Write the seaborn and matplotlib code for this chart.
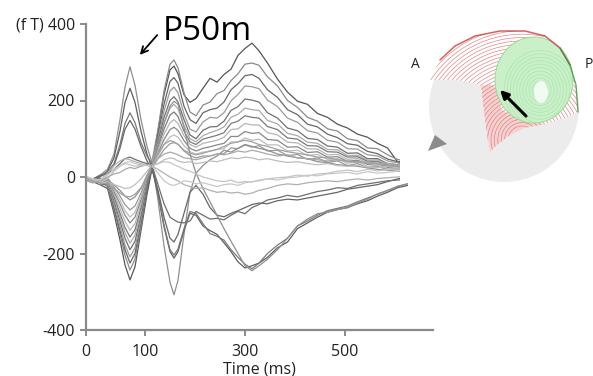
import numpy as np
import pandas as pd
import matplotlib
matplotlib.use("Agg")
import matplotlib.pyplot as plt
import seaborn as sns
from matplotlib.patches import Polygon, Circle, Ellipse

# sample times (ms)
TIME_MS = [-18, -5, 10, 25, 38, 50, 60, 70, 80, 92, 104, 114, 126, 138, 150, 158,
           166, 178, 190, 202, 216, 230, 244, 258, 272, 286, 300, 314, 328, 345,
           365, 385, 405, 425, 445, 465, 485, 505, 525, 545, 565, 585, 605, 625]

# channels negative at P50m, positive at ~160 ms and in the late response
n1 = [-5, -12, -20, -30, -95, -165, -230, -269, -235, -140, -45, 22, 120, 215, 280, 290,
      270, 215, 195, 205, 232, 258, 248, 268, 282, 318, 336, 350, 330, 298,
      256, 222, 198, 190, 166, 156, 138, 128, 112, 104, 88, 76, 40, 38]
n2 = [-8, -15, -12, -25, -85, -150, -205, -243, -215, -130, -30, 40, 125, 225, 295, 306,
      285, 220, 170, 160, 188, 196, 218, 226, 252, 270, 295, 298, 292, 262,
      238, 200, 182, 156, 146, 126, 120, 100, 95, 76, 74, 58, 46, 40]
n3 = [-3, -10, -18, -20, -80, -140, -190, -225, -200, -120, -35, 26, 110, 190, 250, 260,
      245, 185, 150, 140, 168, 176, 180, 196, 228, 244, 265, 268, 258, 228,
      208, 176, 163, 138, 131, 112, 103, 87, 83, 67, 61, 47, 40, 34]
n4 = [0, -8, -14, -18, -70, -128, -178, -209, -185, -110, -20, 42, 100, 172, 225, 235,
      220, 165, 125, 118, 144, 156, 154, 168, 199, 216, 238, 236, 231, 201,
      184, 154, 143, 121, 115, 96, 91, 74, 73, 58, 55, 42, 37, 28]
n5 = [-4, -10, -8, -15, -62, -115, -160, -190, -168, -100, -24, 24, 92, 155, 200, 210,
      196, 150, 110, 100, 122, 131, 132, 146, 174, 184, 204, 201, 196, 168,
      154, 128, 121, 101, 98, 81, 78, 62, 63, 48, 48, 35, 32, 26]
n6 = [-2, -6, -12, -12, -55, -105, -145, -173, -152, -90, -10, 38, 85, 140, 180, 190,
      178, 135, 100, 92, 108, 116, 122, 131, 156, 164, 180, 176, 174, 148,
      139, 114, 108, 91, 88, 72, 71, 56, 57, 44, 45, 33, 30, 24]
n7 = [-6, -12, -10, -10, -50, -95, -132, -157, -138, -80, -14, 28, 78, 125, 162, 170,
      158, 120, 92, 85, 99, 104, 109, 116, 140, 146, 160, 156, 154, 132,
      124, 102, 99, 82, 81, 66, 65, 52, 53, 41, 41, 30, 28, 22]
n8 = [-1, -8, -6, -8, -44, -82, -116, -139, -122, -70, -5, 36, 70, 112, 142, 150,
      140, 108, 85, 78, 88, 92, 96, 104, 124, 126, 140, 136, 136, 116,
      110, 91, 89, 74, 73, 58, 59, 46, 49, 37, 38, 27, 26, 20]
n9 = [-5, -10, -4, -6, -38, -70, -100, -120, -105, -60, -8, 25, 62, 98, 124, 130,
      122, 95, 75, 68, 75, 79, 84, 88, 106, 106, 119, 114, 116, 98,
      96, 78, 79, 64, 66, 52, 53, 41, 44, 33, 35, 25, 24, 18]
n10 = [-3, -7, -9, -4, -32, -60, -88, -105, -92, -52, 2, 32, 55, 85, 105, 110,
       104, 82, 66, 60, 65, 67, 72, 74, 92, 91, 102, 96, 99, 84,
       84, 68, 70, 56, 59, 46, 48, 36, 40, 28, 31, 22, 22, 16]
n11 = [-2, -5, -7, -2, -26, -50, -72, -86, -76, -42, 0, 22, 48, 72, 87, 90,
       86, 68, 56, 50, 55, 55, 60, 61, 76, 74, 84, 78, 82, 68,
       70, 56, 59, 46, 50, 38, 42, 30, 35, 24, 28, 19, 20, 14]

# channels positive at P50m, negative at ~160 ms
p1 = [-3, -8, 5, 20, 60, 150, 235, 288, 240, 150, 80, 38, -60, -180, -275, -308,
      -270, -150, -40, 10, 30, 45, 55, 70, 65, 75, 85, 80, 75, 70,
      60, 55, 50, 48, 40, 38, 32, 30, 28, 24, 20, 18, 15, 12]
p2 = [-6, -10, 0, 15, 50, 120, 195, 232, 195, 120, 60, 24, -45, -130, -195, -212,
      -195, -140, -95, -100, -128, -140, -150, -172, -195, -222, -238, -232, -225, -210,
      -185, -170, -135, -120, -105, -92, -85, -80, -70, -62, -50, -40, -28, -22]
p3 = [-2, -6, 2, 12, 35, 85, 140, 168, 142, 90, 55, 34, -40, -125, -190, -204,
      -188, -135, -90, -95, -122, -148, -155, -165, -190, -210, -228, -240, -225, -200,
      -178, -160, -128, -115, -100, -88, -82, -76, -65, -55, -45, -35, -25, -18]
p4 = [-4, -9, 3, 10, 30, 75, 125, 148, 125, 80, 42, 20, -35, -105, -160, -170,
      -150, -95, -40, -22, -45, -80, -100, -104, -95, -88, -80, -72, -68, -70,
      -62, -58, -60, -55, -50, -45, -40, -32, -28, -24, -20, -12, -5, 0]
p5 = [-2, -5, 4, 8, 20, 35, 48, 52, 46, 40, 35, 30, -20, -70, -105, -112,
      -118, -120, -115, -90, -100, -110, -108, -112, -100, -90, -96, -80, -72, -60,
      -55, -48, -52, -45, -38, -34, -28, -30, -22, -18, -14, -10, -8, -6]
# channel flipping from positive to the deep late trough
l1 = [-3, -6, -10, -8, -20, -35, -50, -60, -52, -30, 5, 30, 80, 140, 185, 198,
      190, 130, 60, 10, -30, -65, -100, -135, -168, -200, -232, -245, -232, -215,
      -190, -160, -128, -110, -96, -92, -85, -80, -68, -58, -44, -36, -24, -18]
# low amplitude channels
z1 = [-5, -12, -8, 10, 30, 42, 48, 45, 40, 35, 30, 28, 20, 10, 0, -5,
      -10, -20, -25, -30, -28, -35, -40, -38, -42, -40, -45, -42, -35, -30,
      -22, -18, -20, -15, -12, -10, -12, -8, -5, -8, -4, -2, 0, 2]
z2 = [0, -6, -14, -5, 15, 28, 35, 32, 28, 30, 32, 30, 35, 40, 38, 32,
      28, 20, 15, 8, 0, -5, -10, -12, -8, -15, -12, -13, -8, -5,
      -2, 0, 5, 2, 8, 10, 15, 18, 14, 20, 16, 20, 18, 22]
z3 = [-8, -15, -10, 0, 8, 12, 20, 25, 22, 28, 32, 30, 48, 60, 65, 62,
      58, 50, 48, 45, 50, 55, 60, 58, 62, 68, 65, 70, 66, 60,
      55, 58, 50, 48, 45, 42, 45, 40, 38, 40, 35, 36, 32, 30]
z4 = [-2, -8, -18, -12, -20, -25, -30, -28, -20, -5, 15, 30, 35, 45, 50, 48,
      42, 38, 40, 35, 38, 42, 40, 45, 50, 48, 52, 50, 45, 48,
      42, 38, 40, 35, 32, 35, 30, 28, 30, 26, 25, 28, 24, 22]
z5 = [2, -4, -8, 5, 20, 30, 38, 40, 35, 32, 30, 28, 10, -10, -20, -22,
      -18, -10, -12, -18, -15, -20, -25, -20, -18, -22, -15, -12, -10, -5,
      -8, -2, 0, 5, 3, 8, 10, 12, 8, 14, 10, 12, 15, 18]
z6 = [-4, -10, -16, -18, -30, -42, -50, -52, -45, -28, 0, 32, 60, 85, 95, 92,
      85, 70, 62, 58, 62, 68, 72, 80, 88, 92, 96, 92, 85, 80,
      72, 66, 62, 58, 52, 50, 45, 42, 40, 36, 34, 30, 28, 26]

TRACES = {"n1": n1, "n2": n2, "n3": n3, "n4": n4, "n5": n5, "n6": n6, "n7": n7,
          "n8": n8, "n9": n9, "n10": n10, "n11": n11, "p1": p1, "p2": p2, "p3": p3,
          "p4": p4, "p5": p5, "l1": l1, "z1": z1, "z2": z2, "z3": z3, "z4": z4,
          "z5": z5, "z6": z6}
GRAYS = {"n1": "#555555", "n2": "#8a8a8a", "n3": "#666666", "n4": "#9a9a9a",
         "n5": "#707070", "n6": "#aaaaaa", "n7": "#7a7a7a", "n8": "#b5b5b5",
         "n9": "#888888", "n10": "#bcbcbc", "n11": "#999999", "p1": "#8f8f8f",
         "p2": "#5e5e5e", "p3": "#7a7a7a", "p4": "#666666", "p5": "#6e6e6e",
         "l1": "#909090", "z1": "#b0b0b0", "z2": "#c4c4c4", "z3": "#a8a8a8",
         "z4": "#bdbdbd", "z5": "#c8c8c8", "z6": "#a0a0a0"}

Y_TICKS = [-400, -200, 0, 200, 400]
Y_LABELS = ["-400", "-200", "0", "200", "(f T) 400"]
X_TICKS = [-18, 100, 300, 500]
X_LABELS = ["0", "100", "300", "500"]

W, H = 593, 376


def px(x, y):
    # image pixel -> figure fraction
    return x / W, 1 - y / H


sns.set_theme(style="white")
plt.rcParams["font.family"] = ["Open Sans", "DejaVu Sans"]

rows = []
for name, vals in TRACES.items():
    for t, v in zip(TIME_MS, vals):
        rows.append({"channel": name, "time": t, "fT": v})
df = pd.DataFrame(rows)

fig = plt.figure(figsize=(W / 100, H / 100), dpi=100)
ax = fig.add_axes([86 / W, 46 / H, 347 / W, 306 / H])
sns.lineplot(data=df, x="time", y="fT", hue="channel", palette=GRAYS,
             estimator=None, sort=False, legend=False, linewidth=0.9, ax=ax)

ax.set_xlim(-18, 676)
ax.set_ylim(-400, 400)
ax.set_yticks(Y_TICKS)
ax.set_yticklabels(Y_LABELS)
ax.set_xticks(X_TICKS)
ax.set_xticklabels(X_LABELS)
ax.set_ylabel("")
ax.set_xlabel("Time (ms)", fontsize=11.5, color="#222222", labelpad=1)
for side in ["top", "right"]:
    ax.spines[side].set_visible(False)
for side in ["left", "bottom"]:
    ax.spines[side].set_color("#8a8a8a")
    ax.spines[side].set_linewidth(1.6)
ax.tick_params(axis="both", direction="out", length=4, width=1.4, color="#8a8a8a",
               labelsize=11.5, labelcolor="#222222", left=True, bottom=True)
ax.tick_params(axis="y", pad=4)
ax.tick_params(axis="x", pad=6)

fig.text(*px(163, 40), "P50m", fontsize=24, ha="left", va="baseline", color="black")
ax.annotate("", xy=px(138, 57), xytext=px(159, 33), xycoords="figure fraction",
            textcoords="figure fraction",
            arrowprops=dict(arrowstyle="->", lw=1.3, color="black"))

# topography inset, drawn in image pixel coordinates
tp = fig.add_axes([400 / W, 1 - 183 / H, 193 / W, 183 / H])
tp.set_zorder(5)
tp.set_facecolor("white")
tp.set_xlim(400, 593)
tp.set_ylim(183, 0)
tp.set_xticks([])
tp.set_yticks([])
for s in tp.spines.values():
    s.set_visible(False)

tp.add_patch(Circle((504, 107), 75, color="#ececec", lw=0, zorder=1))

outline = [(430, 80), (440, 60), (455, 46), (475, 36), (500, 31), (525, 31),
           (545, 36), (560, 48), (570, 65), (576, 85), (578, 112), (565, 118),
           (545, 124), (525, 128), (510, 135), (497, 145), (490, 152), (486, 130),
           (483, 105), (481, 86), (470, 82), (455, 80)]
cap = Polygon(outline, closed=True, facecolor="white", edgecolor="none", zorder=2)
tp.add_patch(cap)

band = [(481, 86), (490, 84), (497, 88), (502, 110), (520, 120), (545, 124),
        (570, 117), (578, 112), (565, 120), (545, 127), (525, 131), (510, 138),
        (497, 148), (490, 152), (486, 130), (483, 105)]
pink = Polygon(band, closed=True, facecolor="#f3c2c2", edgecolor="none",
               alpha=0.75, zorder=3)
tp.add_patch(pink)
pink.set_clip_path(cap)

gx, gy = np.meshgrid(np.linspace(420, 590, 260), np.linspace(20, 160, 220))
red_field = np.hypot(gx - 522, gy - 140)
rc = tp.contour(gx, gy, red_field, levels=np.arange(14, 125, 3.4),
                colors="#e27a7a", linewidths=0.45, zorder=4)
rc.set_clip_path(cap)

green = Ellipse((534, 80), 78, 86, facecolor="#c9f0c9", edgecolor="#8fd88f",
                lw=0.6, zorder=5)
tp.add_patch(green)
green_field = np.hypot((gx - 540) / 39, (gy - 90) / 43)
gc = tp.contour(gx, gy, green_field, levels=np.arange(0.12, 1.0, 0.08),
                colors="#ace6ac", linewidths=0.5, zorder=6)
gc.set_clip_path(green)
tp.add_patch(Ellipse((541, 92), 14, 22, facecolor="#f2fbf2", edgecolor="none", zorder=7))

top_edge = outline[1:9]
tp.plot([p[0] for p in top_edge], [p[1] for p in top_edge], color="#cc3a3a",
        lw=1.1, alpha=0.8, zorder=8)
right_edge = outline[7:11]
tp.plot([p[0] for p in right_edge], [p[1] for p in right_edge], color="#3f8f3f",
        lw=1.0, alpha=0.8, zorder=8)

tp.annotate("", xy=(498, 88), xytext=(528, 118),
            arrowprops=dict(arrowstyle="-|>", lw=2.2, color="black", mutation_scale=12),
            zorder=9)
tp.add_patch(Polygon([(428, 151), (435, 135), (447, 144)], closed=True,
                     facecolor="#8c8c8c", edgecolor="none", zorder=9))
tp.text(415, 64, "A", fontsize=10, ha="center", va="center", color="#222222")
tp.text(585, 64, "P", fontsize=10, ha="left", va="center", color="#222222")

fig.savefig("out.png", dpi=100)
